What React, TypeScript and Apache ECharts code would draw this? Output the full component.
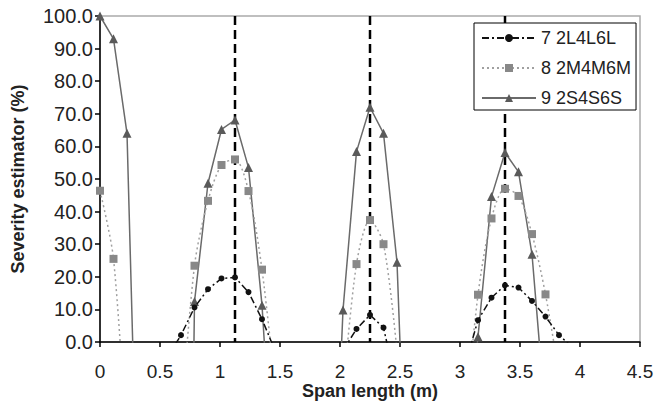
import React, { useEffect, useRef } from 'react';
import * as echarts from 'echarts';

// Span positions (m) of the computed points
const positions = [
  0, 0.1125, 0.225, 0.3375, 0.45, 0.5625, 0.675, 0.7875, 0.9, 1.0125,
  1.125, 1.2375, 1.35, 1.4625, 1.575, 1.6875, 1.8, 1.9125, 2.025, 2.1375,
  2.25, 2.3625, 2.475, 2.5875, 2.7, 2.8125, 2.925, 3.0375, 3.15, 3.2625,
  3.375, 3.4875, 3.6, 3.7125, 3.825, 3.9375, 4.05, 4.1625, 4.275, 4.3875, 4.5,
];

const seriesNames = ['7 2L4L6L', '8 2M4M6M', '9 2S4S6S'];

const values7 = [
  null, null, null, null, null,
  -4.5, 2.1, 10.6, 16.2, 19.5, 19.8, 15.3, 7.0, -3,
  null, null, null, null,
  -2.6, 4.0, 8.3, 4.4, -14,
  null, null, null, null,
  -7.6, 6.7, 13.6, 17.4, 16.7, 12.6, 7.8, 2.1, -1.6,
  null, null, null, null, null,
];

const values8 = [
  46.4, 25.5, -34,
  null, null, null,
  -25, 23.4, 43.3, 54.3, 56.0, 46.3, 22.2, -15,
  null, null, null, null,
  -16, 23.9, 37.4, 30.0, -3,
  null, null, null, null,
  -27, 14.5, 37.9, 47.0, 44.8, 33.1, 14.6, -10,
  null, null, null, null, null, null,
];

const values9 = [
  100, 93, 64, -88,
  null, null,
  -300, 12.4, 48.7, 65.2, 68.1, 53.5, 11.3, -55,
  null, null, null,
  -88, 9.8, 58.4, 72.0, 64.0, 24.5, -87,
  null, null, null,
  -40, 1.6, 44.6, 58.1, 52.2, 26.9, -23,
  null, null, null, null, null, null, null,
];

// Vertical marker lines at the load positions
const peakPositions = [1.125, 2.25, 3.375];

const FONT = '"Liberation Sans", Arial, sans-serif';

function toPairs(vals: (number | null)[]) {
  return positions.map((x, i) => [x, vals[i] === null ? '-' : vals[i]]);
}

export default function App() {
  const ref = useRef<HTMLDivElement>(null);

  useEffect(() => {
    document.body.style.margin = '0';
    if (!ref.current) return;
    const chart = echarts.init(ref.current, undefined, { renderer: 'svg' });

    const peakSeries = peakPositions.map((p, i) => ({
      name: 'peak' + i,
      type: 'line',
      data: [[p, 100], [p, 0]],
      symbol: 'none',
      silent: true,
      z: 1,
      lineStyle: { color: '#000', width: 2.5, type: [9, 5] },
    }));

    chart.setOption({
      animation: false,
      grid: {
        left: 100, right: 16, top: 16, bottom: 61,
        outerBoundsMode: 'none',
        containLabel: false,
        show: true, borderColor: '#aaaaaa', borderWidth: 1.5, backgroundColor: 'transparent',
      },
      legend: {
        data: seriesNames,
        orient: 'vertical',
        left: 474, top: 23,
        padding: [6, 5, 3, 7],
        itemWidth: 54, itemHeight: 10, itemGap: 12,
        backgroundColor: '#fff', borderColor: '#000', borderWidth: 1,
        textStyle: { fontSize: 18, color: '#222', fontFamily: FONT },
      },
      xAxis: {
        type: 'value', min: 0, max: 4.5, interval: 0.5,
        name: 'Span length (m)', nameLocation: 'middle', nameGap: 40,
        nameMoveOverlap: false,
        nameTextStyle: { fontSize: 18, fontWeight: 'bold', color: '#222', fontFamily: FONT },
        axisLine: { show: true, lineStyle: { color: '#000', width: 1.5 } },
        axisTick: { show: true, length: 5, lineStyle: { color: '#000', width: 1.5 } },
        axisLabel: { margin: 20, fontSize: 19, color: '#222', fontFamily: FONT },
        splitLine: { show: false },
      },
      yAxis: {
        type: 'value', min: 0, max: 100, interval: 10,
        name: 'Severity estimator (%)', nameLocation: 'middle', nameGap: 73,
        nameMoveOverlap: false,
        nameTextStyle: { fontSize: 18, fontWeight: 'bold', color: '#222', fontFamily: FONT },
        axisLine: { show: true, lineStyle: { color: '#000', width: 1.5 } },
        axisTick: { show: true, length: 5, lineStyle: { color: '#000', width: 1.5 } },
        axisLabel: {
          margin: 7, fontSize: 20, color: '#222', fontFamily: FONT,
          formatter: (v: number) => v.toFixed(1),
        },
        splitLine: { show: false },
      },
      series: [
        ...peakSeries,
        {
          name: seriesNames[0], type: 'line', data: toPairs(values7), z: 4,
          symbol: 'circle', symbolSize: 6,
          itemStyle: { color: '#111' },
          lineStyle: { color: '#111', width: 1.5, type: [7, 3, 2, 3] },
        },
        {
          name: seriesNames[1], type: 'line', data: toPairs(values8), z: 3,
          smooth: 0.3,
          symbol: 'rect', symbolSize: 8,
          itemStyle: { color: '#888888' },
          lineStyle: { color: '#a0a0a0', width: 1.5, type: [2, 3] },
        },
        {
          name: seriesNames[2], type: 'line', data: toPairs(values9), z: 2,
          symbol: 'triangle', symbolSize: 9,
          itemStyle: { color: '#5a5a5a' },
          lineStyle: { color: '#6a6a6a', width: 1.5 },
        },
      ],
    });

    return () => chart.dispose();
  }, []);

  return <div ref={ref} style={{ width: 656, height: 403 }} />;
}
